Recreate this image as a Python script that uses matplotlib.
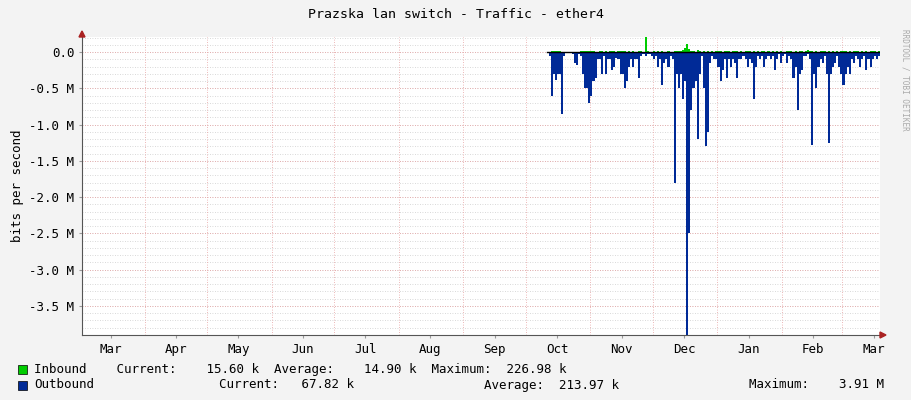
import matplotlib
matplotlib.use("Agg")
import matplotlib.pyplot as plt
import matplotlib.dates as mdates
import numpy as np
import datetime as dt

start = dt.date(2023, 10, 11)
outbound_M = [0,0.05,0.6,0.3,0.38,0.3,0.3,0.85,0.05,0,0,0,0.02,0.15,0.18,0.02,0.05,0.3,0.5,0.5,
 0.7,0.6,0.4,0.35,0.1,0.1,0.3,0.05,0.3,0.1,0.1,0.25,0.2,0.08,0.1,0.3,0.3,0.5,0.4,0.2,
 0.1,0.2,0.1,0.1,0.35,0.05,0.02,0.05,0.02,0.03,0.05,0.1,0.05,0.2,0.1,0.45,0.15,0.1,0.2,0.05,
 0.1,1.8,0.3,0.5,0.3,0.65,0.4,3.91,2.5,0.8,0.5,0.4,1.2,0.3,0.05,0.5,1.3,1.1,0.15,0.05,
 0.1,0.1,0.2,0.4,0.25,0.1,0.35,0.1,0.2,0.1,0.15,0.35,0.1,0.1,0.05,0.1,0.2,0.1,0.15,0.65,
 0.2,0.05,0.1,0.05,0.2,0.1,0.05,0.1,0.05,0.25,0.1,0.02,0.15,0.05,0.02,0.15,0.05,0.1,0.35,0.2,
 0.8,0.3,0.25,0.05,0.05,0.02,0.1,1.28,0.3,0.5,0.2,0.1,0.15,0.05,0.3,1.25,0.3,0.2,0.15,0.05,
 0.2,0.3,0.45,0.3,0.2,0.3,0.1,0.15,0.05,0.1,0.2,0.1,0.05,0.25,0.1,0.2,0.1,0.05,0.1,0.05]
inbound_M = [0,0.01,0.02,0.015,0.02,0.02,0.015,0.01,0.005,0,0,0,0.005,0.01,0.01,0.01,0.015,0.02,0.015,0.02,
 0.015,0.02,0.015,0.01,0.01,0.015,0.02,0.01,0.015,0.01,0.015,0.02,0.015,0.01,0.015,0.02,0.02,0.015,0.01,0.015,
 0.01,0.015,0.01,0.01,0.015,0.02,0.01,0.21,0.02,0.01,0.01,0.015,0.01,0.015,0.01,0.015,0.01,0.01,0.015,0.01,
 0.01,0.015,0.02,0.015,0.02,0.03,0.06,0.12,0.04,0.02,0.015,0.01,0.03,0.02,0.01,0.015,0.01,0.015,0.01,0.015,
 0.01,0.015,0.02,0.015,0.01,0.015,0.02,0.015,0.01,0.015,0.02,0.015,0.01,0.015,0.01,0.015,0.02,0.015,0.01,0.015,
 0.01,0.015,0.01,0.015,0.02,0.01,0.015,0.01,0.015,0.01,0.015,0.01,0.015,0.01,0.01,0.015,0.02,0.015,0.01,0.015,
 0.01,0.015,0.02,0.01,0.015,0.03,0.02,0.015,0.01,0.015,0.01,0.015,0.02,0.015,0.01,0.015,0.01,0.015,0.01,0.015,
 0.01,0.015,0.02,0.015,0.01,0.015,0.01,0.015,0.02,0.015,0.01,0.015,0.01,0.015,0.01,0.015,0.02,0.015,0.01,0.015]
month_labels = ["Mar","Apr","May","Jun","Jul","Aug","Sep","Oct","Nov","Dec","Jan","Feb","Mar"]
legend_in = "Inbound    Current:    15.60 k  Average:    14.90 k  Maximum:  226.98 k"
legend_out = ("Outbound", "Current:   67.82 k", "Average:  213.97 k", "Maximum:    3.91 M")

mono = "DejaVu Sans Mono"
plt.rcParams['font.family'] = mono
fig = plt.figure(figsize=(9.11, 4.0), dpi=100, facecolor="#f3f3f3")
ax = fig.add_axes([82/911, 65/400, 798/911, 298/400], facecolor="white")

days = [start + dt.timedelta(days=i) for i in range(len(outbound_M))]
dn = mdates.date2num(days)
dn = np.append(dn, dn[-1] + 1)
ob = -np.array(outbound_M) * 1e6
ib = np.array(inbound_M) * 1e6
ax.stairs(ib, dn, baseline=0, fill=True, color="#00cc00", lw=0)
ax.stairs(ob, dn, baseline=0, fill=True, color="#002a97", lw=0)
ax.plot([dn[0], dn[-1]], [0, 0], color="black", lw=1)

x0 = mdates.date2num(dt.date(2023, 3, 2)); x1 = mdates.date2num(dt.date(2024, 3, 19))
ax.set_xlim(x0, x1)
ax.set_ylim(-3.9e6, 0.21e6)

for y in np.arange(-3.8e6, 0.21e6, 0.1e6):
    ax.axhline(y, color="#cccccc", lw=0.6, ls=(0, (1, 2)), zorder=0)
for y in np.arange(-3.5e6, 0.1e6, 0.5e6):
    ax.axhline(y, color="#e8a0a0", lw=0.6, ls=(0, (1, 2)), zorder=0)
mstarts = []
for i in range(13):
    y, m = 2023 + (2 + i) // 12, (2 + i) % 12 + 1
    mstarts.append(dt.date(y, m, 1))
for d in mstarts[1:]:
    ax.axvline(mdates.date2num(d), color="#e8a0a0", lw=0.6, ls=(0, (1, 2)), zorder=0)
mids = [mdates.date2num(d) + 15 for d in mstarts]
ax.set_xticks(mids)
ax.set_xticklabels(month_labels, fontsize=9)
yt = np.arange(-3.5e6, 0.1e6, 0.5e6)
ax.set_yticks(yt)
ax.set_yticklabels(["%.1f M" % (v/1e6) if abs(v) > 1 else "0.0" for v in yt], fontsize=9)
ax.tick_params(length=2, color="#999999")
for s in ["top", "right"]:
    ax.spines[s].set_visible(False)
for s in ["left", "bottom"]:
    ax.spines[s].set_color("#555555")
ax.set_ylabel("bits per second", fontsize=9)
fig.text(0.5, 0.965, "Prazska lan switch - Traffic - ether4", ha="center", va="center", fontsize=9.5)
fig.text(0.993, 0.8, "RRDTOOL / TOBI OETIKER", rotation=270, fontsize=5.5, color="#aaaaaa", ha="center", va="center")
fig.patches.append(matplotlib.patches.Polygon([[880/911, 62/400], [886/911, 65/400], [880/911, 68/400]], closed=True, color="#aa2222", transform=fig.transFigure))
fig.patches.append(matplotlib.patches.Polygon([[79/911, 363/400], [82/911, 369/400], [85/911, 363/400]], closed=True, color="#aa2222", transform=fig.transFigure))

fig.add_artist(matplotlib.patches.Rectangle((18/911, 26/400), 9/911, 9/400, facecolor="#00cc00", edgecolor="black", lw=0.5, transform=fig.transFigure))
fig.add_artist(matplotlib.patches.Rectangle((18/911, 10/400), 9/911, 9/400, facecolor="#002a97", edgecolor="black", lw=0.5, transform=fig.transFigure))
fig.text(34/911, 31/400, legend_in, fontsize=9, va="center")
for txt, xp in zip(legend_out, [34, 219, 484, 749]):
    fig.text(xp/911, 15/400, txt, fontsize=9, va="center")
fig.savefig("out.png", dpi=100, facecolor=fig.get_facecolor())
